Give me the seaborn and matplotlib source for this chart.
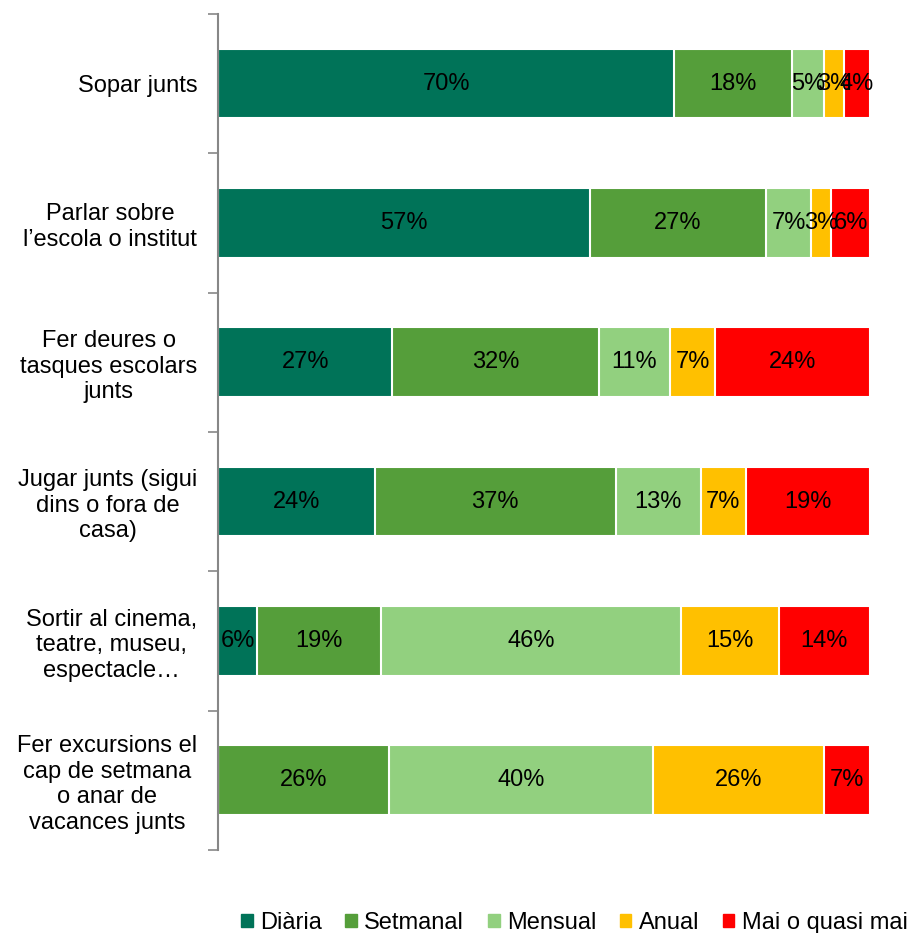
import numpy as np
import pandas as pd
import matplotlib.pyplot as plt
import seaborn as sns

activities = [
    'Sopar junts',
    'Parlar sobre\nl\u2019escola o institut',
    'Fer deures o\ntasques escolars\njunts',
    'Jugar junts (sigui\ndins o fora de\ncasa)',
    'Sortir al cinema,\nteatre, museu,\nespectacle\u2026',
    'Fer excursions el\ncap de setmana\no anar de\nvacances junts',
]
series = ['Di\u00e0ria', 'Setmanal', 'Mensual', 'Anual', 'Mai o quasi mai']
diaria = [70, 57, 27, 24, 6, 0]
setmanal = [18, 27, 32, 37, 19, 26]
mensual = [5, 7, 11, 13, 46, 40]
anual = [3, 3, 7, 7, 15, 26]
mai = [4, 6, 24, 19, 14, 7]
colors = ['#007358', '#559E3A', '#92D07F', '#FFC000', '#FF0000']

sns.set_style('white')
plt.rcParams['font.family'] = ['Liberation Sans', 'DejaVu Sans']
plt.rcParams['text.color'] = 'black'
plt.rcParams['ytick.labelcolor'] = 'black'
FS = 17

vals = np.array([diaria, setmanal, mensual, anual, mai], dtype=float)
# excel style 100% stacked: normalise each row
pct = vals / vals.sum(axis=0) * 100
cum = pct.cumsum(axis=0)

df = pd.DataFrame({'activitat': activities})
for i, s in enumerate(series):
    df[s] = cum[i]

fig = plt.figure(figsize=(9.10, 9.33), dpi=100)
ax = fig.add_axes([0.2396, 0.089, 0.7165, 0.896])

# draw from the longest cumulative bar to the shortest so they stack visually
for i in range(len(series) - 1, -1, -1):
    sns.barplot(data=df, x=series[i], y='activitat', orient='h', color=colors[i],
                saturation=1, width=0.5, edgecolor='white', linewidth=1.5, ax=ax)

for i in range(len(series)):
    for j in range(len(activities)):
        if vals[i, j] <= 0:
            continue
        xc = cum[i, j] - pct[i, j] / 2
        ax.text(xc, j, f'{int(vals[i, j])}%', ha='center', va='center',
                fontsize=FS, color='black')

ax.set_xlim(0, 100)
ax.set_ylim(5.5, -0.5)
ax.set_xlabel('')
ax.set_ylabel('')
ax.set_xticks([])
for sp in ['top', 'right', 'bottom']:
    ax.spines[sp].set_visible(False)
ax.spines['left'].set_color('#878787')
ax.spines['left'].set_linewidth(1.5)

ax.set_yticks(range(len(activities)))
ax.set_yticklabels(activities, fontsize=FS, multialignment='center', color='black')
ax.tick_params(axis='y', which='major', length=0, pad=15)
ax.set_yticks(np.arange(-0.5, len(activities), 1), minor=True)
ax.tick_params(axis='y', which='minor', length=7, width=1.2, color='#878787', left=True)

handles = [plt.Rectangle((0, 0), 1, 1, color=c) for c in colors]
fig.legend(handles, series, loc='lower center', bbox_to_anchor=(0.631, -0.024), ncol=5,
           frameon=False, fontsize=FS, handlelength=0.5, handleheight=0.5,
           handletextpad=0.3, columnspacing=1.0)

fig.savefig('out.png', dpi=100)
